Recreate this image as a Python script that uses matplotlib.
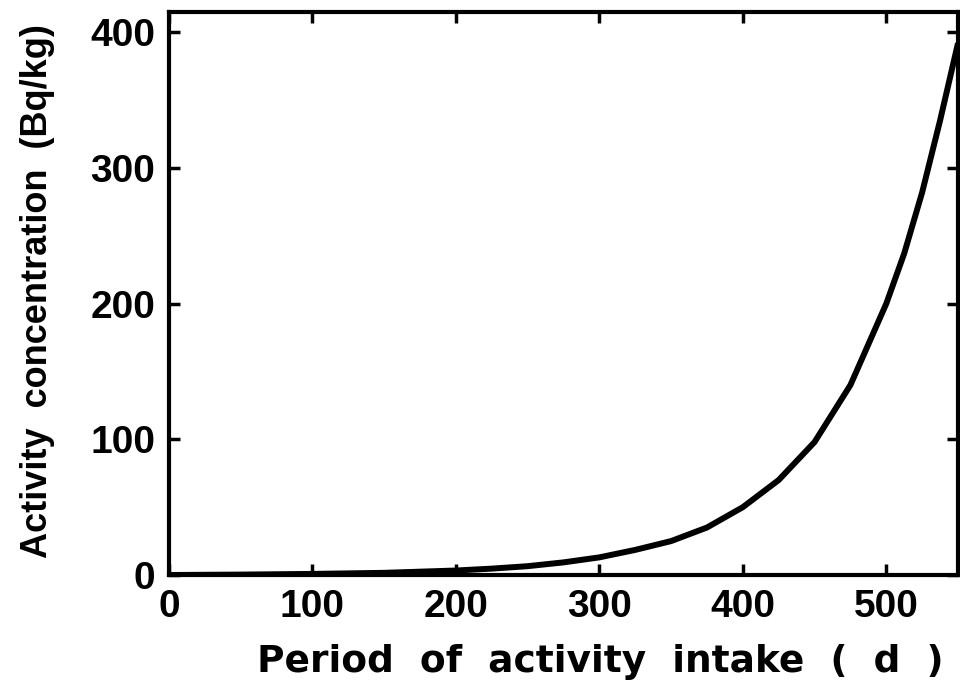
import matplotlib
matplotlib.use("Agg")
import matplotlib.pyplot as plt
import numpy as np

period_days = [0, 50, 100, 150, 200, 225, 250, 275, 300, 325, 350, 375, 400,
               425, 450, 475, 500, 512.5, 525, 537.5, 550]
activity_bq_kg = [0, 0.3, 0.8, 1.6, 3.3, 4.7, 6.5, 9.3, 13, 18.5, 25, 35, 50,
                  70, 98, 140, 200, 237, 282, 335, 392]
x_ticks = [0, 100, 200, 300, 400, 500]
y_ticks = [0, 100, 200, 300, 400]

plt.rcParams['font.family'] = ['Liberation Sans', 'DejaVu Sans']
fig = plt.figure(figsize=(9.6, 6.8), dpi=100)
ax = fig.add_axes([169/960, 1-575/680, (958-169)/960, (575-12)/680])
ax.plot(period_days, activity_bq_kg, color='black', lw=4.3,
        solid_joinstyle='round', solid_capstyle='butt')
ax.set_xlim(0, 550)
ax.set_ylim(0, 415)
ax.set_xticks(x_ticks)
ax.set_yticks(y_ticks)
for s in ax.spines.values():
    s.set_linewidth(3)
ax.tick_params(direction='in', length=8, width=2.5, top=True, right=True,
               labelsize=28, pad=10)
for lbl in ax.get_xticklabels() + ax.get_yticklabels():
    lbl.set_fontweight('bold')
ax.set_xlabel('Period  of  activity  intake  (  d  )', fontsize=27,
              fontweight='bold', family=['DejaVu Sans'])
ax.xaxis.set_label_coords((600-169)/789, -(644-575)/563)
ax.set_ylabel('Activity  concentration  (Bq/kg)', fontsize=26,
              fontweight='bold')
ax.yaxis.set_label_coords(-114/789, 0.505)
fig.savefig('out.png', dpi=100)
